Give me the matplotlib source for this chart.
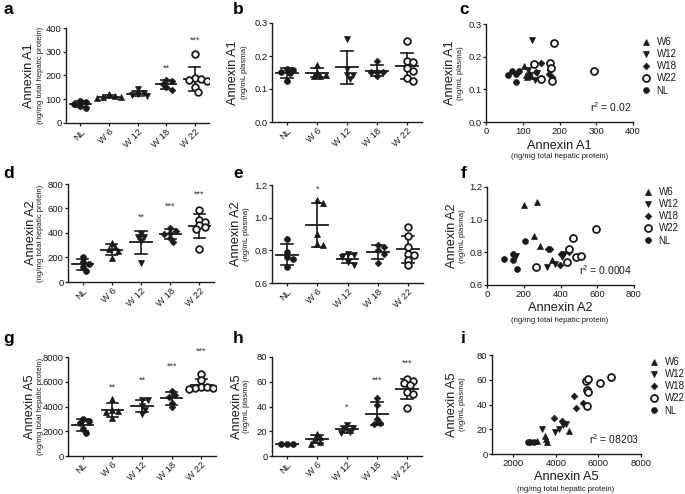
import numpy as np
import matplotlib
matplotlib.use('Agg')
import matplotlib.pyplot as plt
from matplotlib.ticker import FormatStrFormatter

plt.rcParams['font.family'] = ['Liberation Sans', 'DejaVu Sans']
plt.rcParams['mathtext.default'] = 'regular'

W, H = 685, 494
K = '#1a1a1a'

groups = ['NL', 'W 6', 'W 12', 'W 18', 'W 22']
legend_labels = ['W6', 'W12', 'W18', 'W22', 'NL']

# ---- dot-plot data (per group: NL, W6, W12, W18, W22) ----
# a: Annexin A1, ng/mg total hepatic protein
a_NL = [93, 88, 80, 72, 62]
a_W6 = [122, 113, 110, 108, 104]
a_W12 = [142, 128, 122, 116, 112]
a_W18 = [182, 176, 165, 150, 138]
a_W22 = [292, 190, 185, 182, 178, 150, 132]
# b: Annexin A1, ng/mL plasma
b_NL = [0.160, 0.158, 0.150, 0.147, 0.124]
b_W6 = [0.172, 0.152, 0.140, 0.140, 0.143]
b_W12 = [0.252, 0.160, 0.143, 0.143, 0.131]
b_W18 = [0.186, 0.153, 0.153, 0.150, 0.138]
b_W22 = [0.245, 0.186, 0.182, 0.165, 0.155, 0.133, 0.125]
# d: Annexin A2, hepatic
d_NL = [205, 160, 147, 120, 88]
d_W6 = [318, 283, 269, 250, 193]
d_W12 = [395, 367, 365, 332, 155]
d_W18 = [440, 414, 400, 392, 360, 328]
d_W22 = [591, 509, 487, 468, 446, 435, 267]
# e: Annexin A2, plasma
e_NL = [0.87, 0.79, 0.76, 0.75, 0.70]
e_W6 = [1.11, 1.09, 0.90, 0.84, 0.83]
e_W12 = [0.78, 0.77, 0.76, 0.73, 0.71]
e_W18 = [0.83, 0.82, 0.80, 0.78, 0.72]
e_W22 = [0.94, 0.89, 0.82, 0.78, 0.77, 0.74, 0.71]
# g: Annexin A5, hepatic
g_NL = [3000, 2850, 2700, 2200, 1850]
g_W6 = [4600, 3750, 3650, 3550, 3100]
g_W12 = [4550, 4500, 4050, 3700, 3400]
g_W18 = [5270, 4950, 4760, 4320, 3950]
g_W22 = [6600, 6150, 5600, 5550, 5500, 5500, 5450]
# h: Annexin A5, plasma
h_NL = [10, 10, 10]
h_W6 = [18, 15, 13, 11, 10]
h_W12 = [25, 22.5, 21.7, 19.5, 18.7]
h_W18 = [47, 41, 30, 27, 26]
h_W22 = [62, 60.5, 59, 57.5, 51.5, 50.5, 39]

# significance labels per group
a_sig = ['', '', '', '**', '***']
d_sig = ['', '', '**', '***', '***']
e_sig = ['', '*', '', '', '']
g_sig = ['', '**', '**', '***', '***']
h_sig = ['', '', '*', '***', '***']
# heights of the significance labels (data units)
a_sig_y = [0, 0, 0, 232, 347]
d_sig_y = [0, 0, 530, 615, 715]
e_sig_y = [0, 1.174, 0, 0, 0]
g_sig_y = [0, 5570, 6160, 7240, 8430]
h_sig_y = [0, 0, 39.3, 61, 74.6]

# ---- scatter data (x = hepatic, y = plasma) ----
c_x = {'W6': [104, 110, 112, 122, 118], 'W12': [125, 115, 133, 120, 140],
       'W18': [149, 136, 171, 175, 180], 'W22': [131, 149, 175, 178, 180, 186, 293],
       'NL': [60, 70, 82, 82, 91]}
c_y = {'W6': [0.171, 0.145, 0.138, 0.140, 0.150], 'W12': [0.251, 0.158, 0.128, 0.143, 0.150],
       'W18': [0.182, 0.153, 0.148, 0.158, 0.137],
       'W22': [0.179, 0.133, 0.182, 0.164, 0.124, 0.243, 0.155],
       'NL': [0.145, 0.157, 0.147, 0.121, 0.156]}
f_x = {'W6': [200, 270, 255, 290, 355], 'W12': [160, 325, 370, 410, 420],
       'W18': [330, 345, 395, 405, 445], 'W22': [269, 435, 445, 468, 486, 514, 593],
       'NL': [91, 143, 143, 165, 209]}
f_y = {'W6': [1.09, 1.11, 0.90, 0.84, 0.75], 'W12': [0.78, 0.71, 0.73, 0.77, 0.79],
       'W18': [0.82, 0.82, 0.72, 0.79, 0.80],
       'W22': [0.71, 0.74, 0.82, 0.89, 0.77, 0.78, 0.94],
       'NL': [0.76, 0.79, 0.75, 0.70, 0.87]}
i_x = {'W6': [3100, 3500, 3550, 3580, 4620], 'W12': [3340, 3970, 4150, 4350, 4480],
       'W18': [3920, 4280, 4830, 4940, 5270],
       'W22': [5420, 5520, 5480, 5490, 5460, 6080, 6580],
       'NL': [2700, 2800, 2950]}
i_y = {'W6': [10.8, 14.5, 12, 9.5, 18.8], 'W12': [20, 18, 20, 23.5, 24.5],
       'W18': [29, 26.5, 47, 37.5, 41.5],
       'W22': [59, 60.5, 51.5, 50.5, 38.5, 57.5, 62],
       'NL': [10, 10, 10]}
r2_c, r2_f, r2_i = '0.02', '0.0004', '08203'

# ---- styles ----
mk = {'NL': dict(marker='o', ms=4.2, mfc=K, mec=K, mew=0.5),
      'W6': dict(marker='^', ms=4.3, mfc=K, mec=K, mew=0.5),
      'W12': dict(marker='v', ms=4.3, mfc=K, mec=K, mew=0.5),
      'W18': dict(marker='D', ms=3.4, mfc=K, mec=K, mew=0.5),
      'W22': dict(marker='o', ms=4.8, mfc='white', mec=K, mew=1.3)}
gkeys = ['NL', 'W6', 'W12', 'W18', 'W22']

fig = plt.figure(figsize=(W / 100, H / 100), dpi=100)


def axbox(l, t, r, b):
    return fig.add_axes([l / W, 1 - b / H, (r - l) / W, (b - t) / H])


def style(ax):
    for s in ('top', 'right'):
        ax.spines[s].set_visible(False)
    for s in ('left', 'bottom'):
        ax.spines[s].set_linewidth(1.0)
        ax.spines[s].set_color(K)
    ax.tick_params(direction='out', length=2.5, width=0.9, colors=K, labelsize=6.8, pad=0.8)


def ftext(x, y, s, **kw):
    fig.text(x / W, 1 - y / H, s, **kw)


def swarm(vals, xpx, ypx, d):
    offs = []
    placed = []
    cands = [0.0]
    for j in range(1, 8):
        cands += [j * 0.6, -j * 0.6]
    for v in vals:
        yp = v * ypx
        for c in cands:
            xp = c * d
            if all((xp - px) ** 2 + (yp - py) ** 2 >= (0.9 * d) ** 2 for px, py in placed):
                break
        placed.append((xp, yp))
        offs.append(xp / xpx)
    return np.array(offs)


def dot_panel(box, data, ylim, yticks, fmt, sig, sig_y):
    ax = axbox(*box)
    style(ax)
    ax.set_xlim(-0.5, 4.5)
    ax.set_ylim(*ylim)
    pos = ax.get_position()
    xpx = pos.width * W / 5.0
    ypx = pos.height * H / (ylim[1] - ylim[0])
    for i, vals in enumerate(data):
        vals = np.asarray(vals, float)
        m = vals.mean()
        s = vals.std(ddof=1)
        ax.plot([i - 0.36, i + 0.36], [m, m], color=K, lw=1.3, zorder=2)
        ax.plot([i, i], [m - s, m + s], color=K, lw=1.2, zorder=2)
        for yy in (m - s, m + s):
            ax.plot([i - 0.19, i + 0.19], [yy, yy], color=K, lw=1.2, zorder=2)
        offs = swarm(vals, xpx, ypx, 5.0)
        ax.plot(i + offs, vals, ls='none', zorder=3, **mk[gkeys[i]])
        if sig[i]:
            ax.text(i, sig_y[i], sig[i], ha='center', va='center', fontsize=6.5,
                    color='#333333', clip_on=False)
    ax.set_xticks(range(5))
    ax.set_xticklabels(groups, rotation=45, ha='right', va='top', rotation_mode='anchor',
                       fontsize=6.8)
    ax.set_yticks(yticks)
    if fmt:
        ax.yaxis.set_major_formatter(FormatStrFormatter(fmt))
    return ax


def scatter_panel(box, xd, yd, xlim, xticks, ylim, yticks, fmt, r2, leg_xy):
    ax = axbox(*box)
    style(ax)
    for key in legend_labels:
        st = dict(mk[key])
        if key == 'W22':
            st['ms'] = 5.0
        ax.plot(xd[key], yd[key], ls='none', label=key, zorder=3, clip_on=False, **st)
    ax.set_xlim(*xlim)
    ax.set_ylim(*ylim)
    ax.set_xticks(xticks)
    ax.set_yticks(yticks)
    if fmt:
        ax.yaxis.set_major_formatter(FormatStrFormatter(fmt))
    ax.text(0.99, 0.15, r'r$^{2}$ = ' + r2, transform=ax.transAxes, ha='right',
            va='center', fontsize=7.5, color=K)
    ax.legend(loc='upper left', bbox_to_anchor=(leg_xy[0] / W, 1 - leg_xy[1] / H),
              bbox_transform=fig.transFigure, frameon=False, fontsize=7,
              handlelength=1.0, handletextpad=0.6, labelspacing=0.22, borderpad=0,
              borderaxespad=0, labelcolor=K)
    return ax


# ---- row 1 ----
dot_panel((66, 28, 209, 123), [a_NL, a_W6, a_W12, a_W18, a_W22], (0, 400),
          [0, 100, 200, 300, 400], None, a_sig, a_sig_y)
dot_panel((272, 23, 422, 122), [b_NL, b_W6, b_W12, b_W18, b_W22], (0, 0.3),
          [0, 0.1, 0.2, 0.3], '%.1f', [''] * 5, [0] * 5)
scatter_panel((486, 24, 633, 122), c_x, c_y, (0, 400), [0, 100, 200, 300, 400],
              (0, 0.3), [0, 0.1, 0.2, 0.3], '%.1f', r2_c, (641, 37))

# ---- row 2 ----
dot_panel((68, 184, 214, 282), [d_NL, d_W6, d_W12, d_W18, d_W22], (0, 800),
          [0, 200, 400, 600, 800], None, d_sig, d_sig_y)
dot_panel((272, 185, 423, 283), [e_NL, e_W6, e_W12, e_W18, e_W22], (0.6, 1.2),
          [0.6, 0.8, 1.0, 1.2], '%.1f', e_sig, e_sig_y)
scatter_panel((487, 187, 634, 285), f_x, f_y, (0, 800), [0, 200, 400, 600, 800],
              (0.6, 1.2), [0.6, 0.8, 1.0, 1.2], '%.1f', r2_f, (643, 187))

# ---- row 3 ----
dot_panel((68, 357, 216, 456), [g_NL, g_W6, g_W12, g_W18, g_W22], (0, 8000),
          [0, 2000, 4000, 6000, 8000], None, g_sig, g_sig_y)
dot_panel((272, 357, 422, 456), [h_NL, h_W6, h_W12, h_W18, h_W22], (0, 80),
          [0, 20, 40, 60, 80], None, h_sig, h_sig_y)
scatter_panel((492, 355, 641, 454), i_x, i_y, (1000, 8000), [2000, 4000, 6000, 8000],
              (0, 80), [0, 20, 40, 60, 80], None, r2_i, (649, 357))

# ---- y labels ----
hep = '(ng/mg total hepatic protein)'
pla = '(ng/mL plasma)'
ylabs = [
    ('Annexin A1', hep, 29, 40, 75.5), ('Annexin A1', pla, 233, 245, 72.5),
    ('Annexin A1', pla, 450, 461, 73),
    ('Annexin A2', hep, 31, 41, 233), ('Annexin A2', pla, 236, 246, 234),
    ('Annexin A2', pla, 452, 462, 236),
    ('Annexin A5', hep, 30, 40, 406.5), ('Annexin A5', pla, 237, 247, 406.5),
    ('Annexin A5', pla, 452, 462, 404.5),
]
for main, sub, x1, x2, yc in ylabs:
    ftext(x1, yc, main, rotation=90, ha='center', va='center', fontsize=9.2, color=K)
    ftext(x2, yc, sub, rotation=90, ha='center', va='center', fontsize=5.6, color=K)

# ---- scatter x labels ----
for main, xc, y1, y2 in [('Annexin A1', 559.5, 146, 157), ('Annexin A2', 560, 308, 320),
                         ('Annexin A5', 566, 477, 489)]:
    ftext(xc, y1, main, ha='center', va='center', fontsize=9.2, color=K)
    ftext(xc, y2, hep, ha='center', va='center', fontsize=5.6, color=K)

# ---- panel letters ----
for s, x, y in [('a', 3, 14), ('b', 233, 14), ('c', 459, 14),
                ('d', 3, 178), ('e', 233, 178), ('f', 461, 178),
                ('g', 3, 343), ('h', 233, 343), ('i', 461, 343)]:
    ftext(x, y, s, fontsize=12.5, fontweight='bold', ha='left', va='baseline', color='black')

fig.savefig('out.png', dpi=100)
